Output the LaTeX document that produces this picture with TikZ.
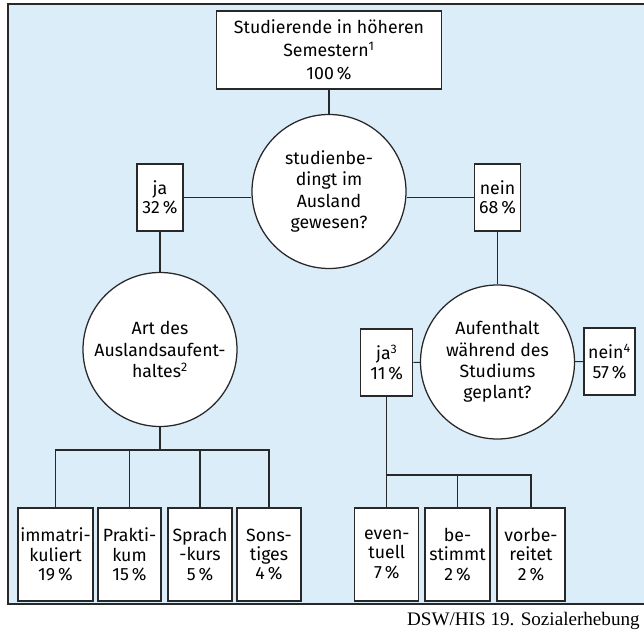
\documentclass[tikz,border=0pt]{standalone}
\usepackage{fontspec}
\setmainfont{Fira Sans}
\newfontfamily\srcfont{Liberation Serif}
\usetikzlibrary{positioning}
\definecolor{panel}{RGB}{220,237,250}
\definecolor{ink}{RGB}{40,40,40}
\tikzset{
  box/.style={rectangle, draw=ink, line width=0.9pt, fill=white, inner sep=0pt,
              align=center, font=\fontsize{12.6}{13.8}\selectfont},
  leaf/.style={box, minimum height=2.325cm},
  qst/.style={circle, draw=ink, line width=0.9pt, fill=white, inner sep=0pt,
              minimum size=3.85cm, align=center, font=\fontsize{12.6}{15.2}\selectfont},
  link/.style={draw=ink, line width=0.8pt},
  src/.style={font=\srcfont\fontsize{13.6}{15}\selectfont, inner sep=0pt},
}

\begin{document}
\begin{tikzpicture}
  \useasboundingbox (0,0) rectangle (16.1,-15.775);
  \fill[panel] (0.2,-0.1) rectangle (16.3,-15.1);
  \draw[ink, line width=1pt] (16.3,-0.1) -- (0.2,-0.1) -- (0.2,-15.1) -- (16.3,-15.1);
  % top level
  \node[box, minimum width=5.625cm, minimum height=1.95cm, font=\fontsize{12.6}{16.6}\selectfont] (all) at (8.225,-1.25)
    {Studierende in höheren\\Semestern\textsuperscript{1}\\100\,\%};
  \node[qst] (abroad) at (8.225,-4.7875) {studienbe-\\dingt im\\Ausland\\gewesen?};
  \node[box, minimum width=1.15cm, minimum height=1.675cm] (ja) at (4.0,-4.9375) {ja\\32\,\%};
  \node[box, minimum width=1.15cm, minimum height=1.675cm] (nein) at (12.4375,-4.9375) {nein\\68\,\%};
  % second level
  \node[qst] (art) at (4.0,-8.7375) {Art des\\Auslandsaufent-\\haltes\textsuperscript{2}};
  \node[qst] (plan) at (12.4375,-9.05) {Aufenthalt\\während des\\Studiums\\geplant?};
  \node[box, minimum width=1.3cm, minimum height=1.675cm] (ja3) at (9.67,-9.0625) {ja\textsuperscript{3}\\11\,\%};
  \node[box, minimum width=1.275cm, minimum height=1.675cm] (nein4) at (15.2375,-9.0375) {nein\textsuperscript{4}\\57\,\%};
  % leaves
  \node[leaf, minimum width=1.875cm] (imm) at (1.3875,-13.8625) {immatri-\\kuliert\\19\,\%};
  \node[leaf, minimum width=1.575cm] (prak) at (3.2375,-13.8625) {Prakti-\\kum\\15\,\%};
  \node[leaf, minimum width=1.6cm] (sprach) at (5.0,-13.8625) {Sprach\\-kurs\\5\,\%};
  \node[leaf, minimum width=1.6cm] (sonst) at (6.725,-13.8625) {Sons-\\tiges\\4\,\%};
  \node[leaf, minimum width=1.6cm] (evt) at (9.67,-13.8625) {even-\\tuell\\7\,\%};
  \node[leaf, minimum width=1.625cm] (best) at (11.4375,-13.8625) {be-\\stimmt\\2\,\%};
  \node[leaf, minimum width=1.7cm] (vorb) at (13.275,-13.8625) {vorbe-\\reitet\\2\,\%};
  \coordinate (lbar) at (4.0,-11.25);
  \coordinate (rbar) at (9.67,-11.875);
  % connectors
  \draw[link] (all) -- (abroad);
  \draw[link] (ja) -- (ja -| abroad.west);
  \draw[link] (nein) -- (nein -| abroad.east);
  \draw[link] (ja) -- (art);
  \draw[link] (nein) -- (plan);
  \draw[link] (ja3) -- (plan);
  \draw[link] (plan) -- (nein4);
  \draw[link] (art) -- (lbar);
  \foreach \n in {imm,prak,sprach,sonst} \draw[link] (lbar) -| (\n);
  \draw[link] (ja3) -- (rbar);
  \foreach \n in {evt,best,vorb} \draw[link] (rbar) -| (\n);
  \node[src, anchor=base east] (source) at (16.0,-15.64) {DSW/HIS 19. Sozialerhebung};
\end{tikzpicture}
\end{document}
